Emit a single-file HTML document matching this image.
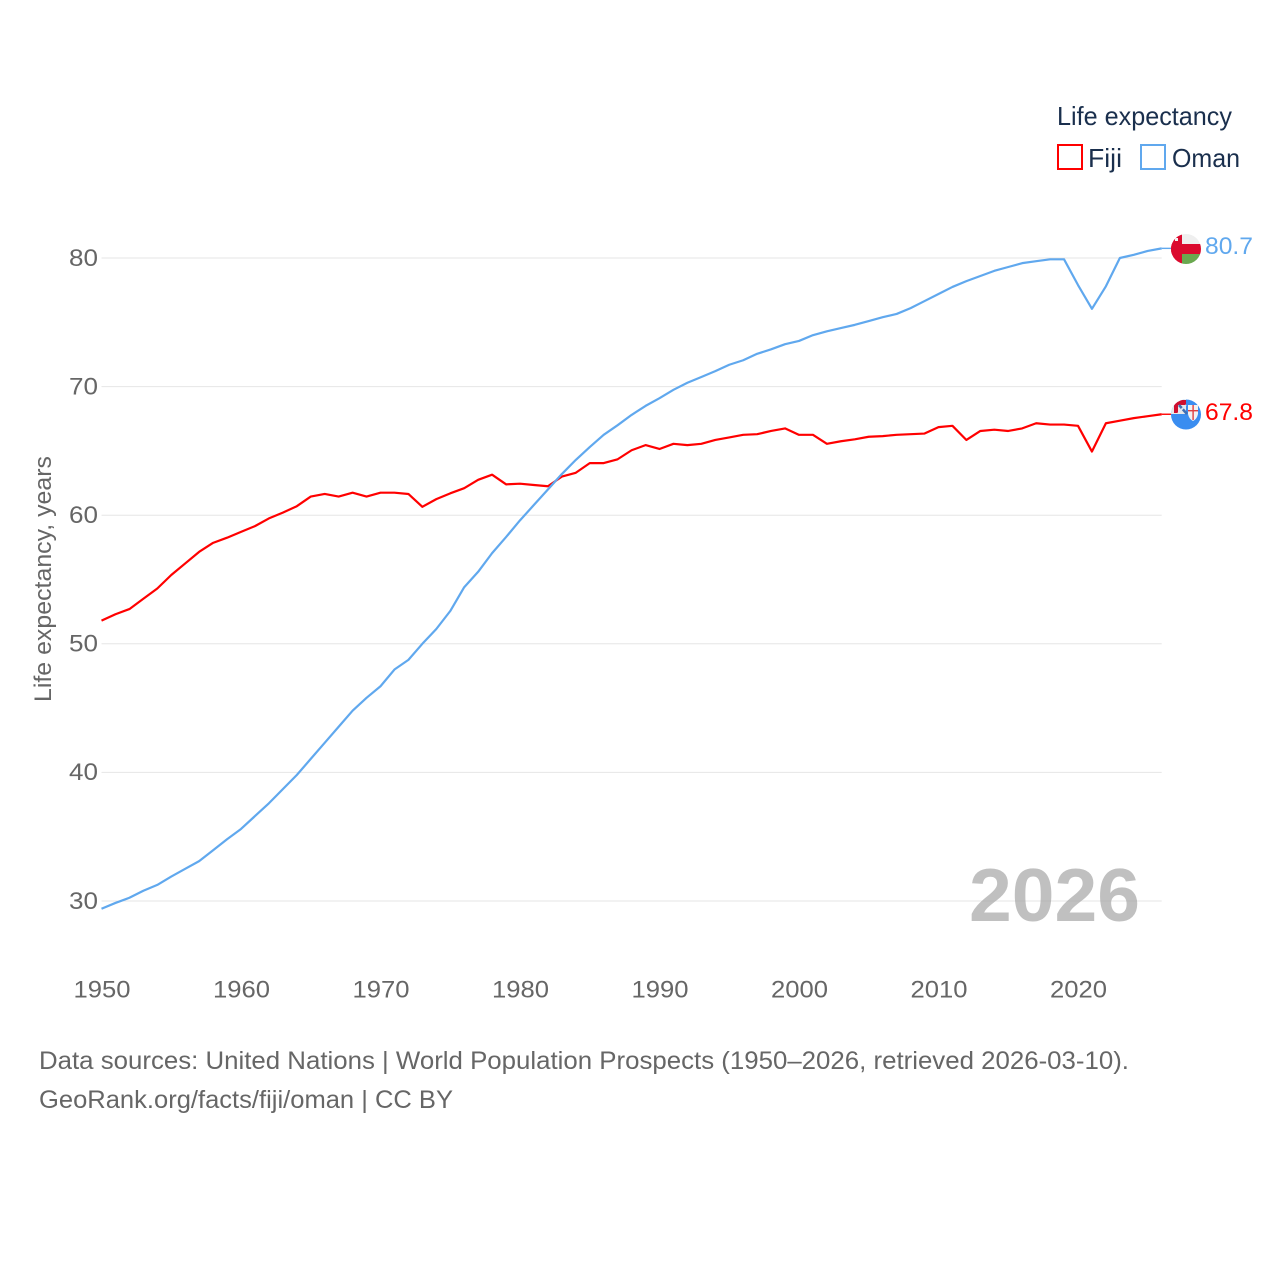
<!DOCTYPE html>
<html lang="en">
<head>
<meta charset="utf-8">
<title>Life expectancy: Fiji and Oman</title>
<style>
html,body{margin:0;padding:0;background:#fff;}
svg{display:block;font-family:"Liberation Sans",sans-serif;}
</style>
</head>
<body>
<svg id="chart" xmlns="http://www.w3.org/2000/svg" width="1280" height="1280" viewBox="0 0 1280 1280">
  <defs>
    <clipPath id="flag-clip-oman"><circle id="clip-oman" cx="1186" cy="249" r="15"></circle></clipPath>
    <clipPath id="flag-clip-fiji"><circle id="clip-fiji" cx="1186" cy="414.5" r="15"></circle></clipPath>
  </defs>
  <rect x="0" y="0" width="1280" height="1280" fill="#fff"></rect>
  <g id="grid"></g>
  <g id="y-labels"></g>
  <g id="x-labels"></g>
  <text x="969" y="921" font-size="75" font-weight="700" fill="#999" fill-opacity="0.62" textLength="171" lengthAdjust="spacingAndGlyphs">2026</text>
  <text transform="translate(51,702) rotate(-90)" font-size="24.5" fill="#666" textLength="246" lengthAdjust="spacingAndGlyphs">Life expectancy, years</text>
  <g id="series"></g>

  <g id="flag-oman" clip-path="url(#flag-clip-oman)">
    <rect x="1171" y="234" width="30" height="30" fill="#efefef"></rect>
    <rect x="1182" y="254" width="19" height="10" fill="#6aa84f"></rect>
    <rect x="1171" y="244" width="30" height="10" fill="#db0a2e"></rect>
    <rect x="1171" y="234" width="11" height="30" fill="#db0a2e"></rect>
    <rect x="1175" y="238" width="3" height="3" fill="#f4f4f4"></rect>
  </g>
  <g id="flag-fiji" clip-path="url(#flag-clip-fiji)">
    <rect x="1171" y="399" width="30" height="31" fill="#3a8df0"></rect>
    <rect x="1171" y="399" width="15" height="15" fill="#e8e8e8"></rect>
    <rect x="1174" y="400" width="12" height="5" fill="#cf1030"></rect>
    <rect x="1174" y="400" width="4" height="13" fill="#cf1030"></rect>
    <path d="M1179 405 L1187 414" stroke="#3f6fb5" stroke-width="2.6" fill="none"></path>
    <path d="M1186 405 L1178 413" stroke="#dfe8f5" stroke-width="1.6" fill="none"></path>
    <path d="M1188 405 h10 v9 q-1 5 -5 7 q-4 -2 -5 -7 z" fill="#f2f2f2"></path>
    <rect x="1192.4" y="405" width="1.4" height="15" fill="#e04040"></rect>
    <rect x="1188" y="410" width="10" height="1.4" fill="#e04040"></rect>
  </g>

  <text x="1205" y="254" font-size="24.5" fill="#60a8ee" textLength="48" lengthAdjust="spacingAndGlyphs">80.7</text>
  <text x="1205" y="420" font-size="24.5" fill="#ff0000" textLength="48" lengthAdjust="spacingAndGlyphs">67.8</text>

  <g>
    <text x="1057" y="125" font-size="26" fill="#1a2f4d" textLength="175" lengthAdjust="spacingAndGlyphs">Life expectancy</text>
    <g>
      <rect x="1058" y="145" width="24" height="24" fill="none" stroke="#ff0000" stroke-width="2"></rect>
      <text x="1088" y="167" font-size="26" fill="#1a2f4d" textLength="34" lengthAdjust="spacingAndGlyphs">Fiji</text>
    </g>
    <g>
      <rect x="1141" y="145" width="24" height="24" fill="none" stroke="#60a8ee" stroke-width="2"></rect>
      <text x="1172" y="167" font-size="26" fill="#1a2f4d" textLength="68" lengthAdjust="spacingAndGlyphs">Oman</text>
    </g>
  </g>

  <text x="39" y="1069" font-size="25" fill="#666" textLength="1090" lengthAdjust="spacingAndGlyphs">Data sources: United Nations | World Population Prospects (1950–2026, retrieved 2026-03-10).</text>
  <text x="39" y="1108" font-size="25" fill="#666" textLength="414" lengthAdjust="spacingAndGlyphs">GeoRank.org/facts/fiji/oman | CC BY</text>
</svg>

<script>
const startYear = 1950;
const endYear = 2026;
const yTicks = [30, 40, 50, 60, 70, 80];
const xTicks = [1950, 1960, 1970, 1980, 1990, 2000, 2010, 2020];
const fijiValues = [
  51.8,52.3,52.7,53.5,54.3,55.35,56.25,57.15,57.85,58.25,
  58.7,59.15,59.75,60.2,60.7,61.45,61.65,61.45,61.75,61.45,
  61.75,61.75,61.65,60.65,61.25,61.7,62.1,62.75,63.15,62.4,
  62.45,62.35,62.25,63.0,63.3,64.05,64.05,64.35,65.05,65.45,
  65.15,65.55,65.45,65.55,65.85,66.05,66.25,66.3,66.55,66.75,
  66.25,66.25,65.55,65.75,65.9,66.1,66.15,66.25,66.3,66.35,
  66.85,66.95,65.85,66.55,66.65,66.55,66.75,67.15,67.05,67.05,
  66.95,64.95,67.15,67.35,67.55,67.7,67.85
];
const omanValues = [
  29.4,29.85,30.25,30.8,31.25,31.9,32.5,33.1,33.95,34.8,
  35.6,36.6,37.6,38.7,39.8,41.05,42.3,43.55,44.8,45.8,
  46.7,48.0,48.75,50.0,51.15,52.55,54.4,55.6,57.05,58.3,
  59.6,60.8,62.0,63.2,64.3,65.3,66.25,67.0,67.8,68.5,
  69.1,69.75,70.3,70.75,71.2,71.7,72.05,72.55,72.9,73.3,
  73.55,74.0,74.3,74.55,74.8,75.1,75.4,75.65,76.1,76.65,
  77.2,77.75,78.2,78.6,79.0,79.3,79.6,79.75,79.9,79.9,
  77.9,76.05,77.8,80.0,80.25,80.55,80.75
];

const SVG_NS = 'http://www.w3.org/2000/svg';
function xScale(year) { return 101.5 + (year - 1950) * 13.95; }
function yScale(value) { return 901 - (value - 30) * 12.86; }

const grid = document.getElementById('grid');
const yLabels = document.getElementById('y-labels');
const xLabels = document.getElementById('x-labels');
const seriesGroup = document.getElementById('series');

yTicks.forEach(function (tick) {
  const line = document.createElementNS(SVG_NS, 'line');
  
  
  line.setAttribute('x1', xScale(startYear));
  line.setAttribute('x2', xScale(endYear));
  line.setAttribute('y1', yScale(tick));
  line.setAttribute('y2', yScale(tick));
  line.setAttribute('stroke', '#e6e6e6');
  line.setAttribute('stroke-width', '1');
  grid.appendChild(line);

  const label = document.createElementNS(SVG_NS, 'text');
  
  
  label.setAttribute('x', 98);
  label.setAttribute('y', yScale(tick) + 7.8);
  label.setAttribute('text-anchor', 'end');
  label.setAttribute('font-size', '24.5');
  label.setAttribute('fill', '#666');
  label.setAttribute('textLength', '29');
  label.setAttribute('lengthAdjust', 'spacingAndGlyphs');
  label.textContent = tick;
  yLabels.appendChild(label);
});

xTicks.forEach(function (tick) {
  const label = document.createElementNS(SVG_NS, 'text');
  
  
  label.setAttribute('x', xScale(tick) + 0.5);
  label.setAttribute('y', 997.5);
  label.setAttribute('text-anchor', 'middle');
  label.setAttribute('font-size', '24.5');
  label.setAttribute('fill', '#666');
  label.setAttribute('textLength', '57');
  label.setAttribute('lengthAdjust', 'spacingAndGlyphs');
  label.textContent = tick;
  xLabels.appendChild(label);
});

function linePoints(values) {
  return values.map(function (value, i) {
    return xScale(startYear + i).toFixed(2) + ',' + yScale(value).toFixed(2);
  }).join(' ');
}

const fijiLine = document.createElementNS(SVG_NS, 'polyline');


fijiLine.setAttribute('points', linePoints(fijiValues));
fijiLine.setAttribute('fill', 'none');
fijiLine.setAttribute('stroke', '#ff0000');
fijiLine.setAttribute('stroke-width', '2.2');
fijiLine.setAttribute('stroke-linejoin', 'round');
seriesGroup.appendChild(fijiLine);

const omanLine = document.createElementNS(SVG_NS, 'polyline');


omanLine.setAttribute('points', linePoints(omanValues));
omanLine.setAttribute('fill', 'none');
omanLine.setAttribute('stroke', '#60a8ee');
omanLine.setAttribute('stroke-width', '2.2');
omanLine.setAttribute('stroke-linejoin', 'round');
seriesGroup.appendChild(omanLine);

const fijiLast = fijiValues[fijiValues.length - 1];
const fijiConnector = document.createElementNS(SVG_NS, 'line');


fijiConnector.setAttribute('x1', xScale(endYear));
fijiConnector.setAttribute('x2', 1172);
fijiConnector.setAttribute('y1', yScale(fijiLast));
fijiConnector.setAttribute('y2', yScale(fijiLast));
fijiConnector.setAttribute('stroke', '#ff0000');
fijiConnector.setAttribute('stroke-width', '1.4');
seriesGroup.appendChild(fijiConnector);

const omanLast = omanValues[omanValues.length - 1];
const omanConnector = document.createElementNS(SVG_NS, 'line');


omanConnector.setAttribute('x1', xScale(endYear));
omanConnector.setAttribute('x2', 1172);
omanConnector.setAttribute('y1', yScale(omanLast));
omanConnector.setAttribute('y2', yScale(omanLast));
omanConnector.setAttribute('stroke', '#60a8ee');
omanConnector.setAttribute('stroke-width', '1.4');
seriesGroup.appendChild(omanConnector);
</script>
</body>
</html>
